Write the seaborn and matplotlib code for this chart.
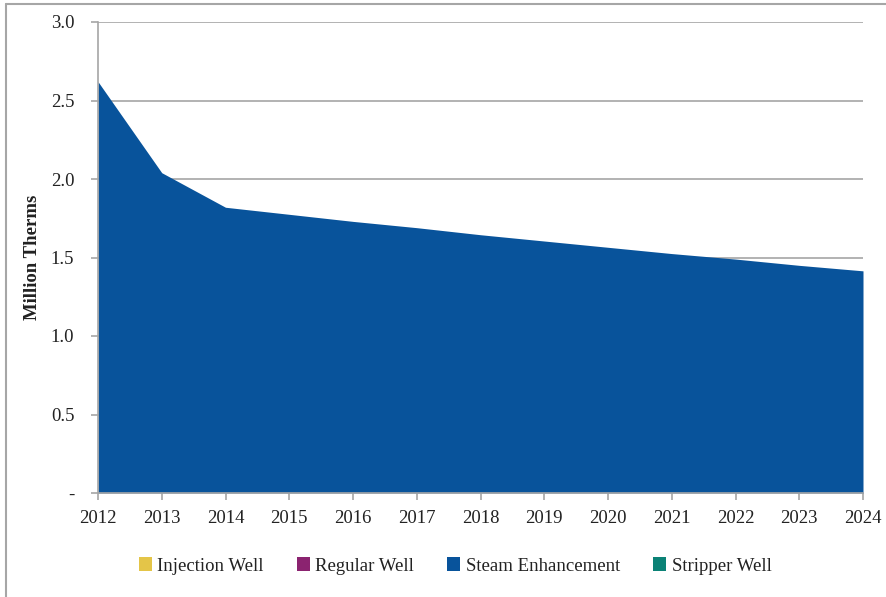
import matplotlib
matplotlib.use("Agg")
import matplotlib.pyplot as plt
import seaborn as sns
import numpy as np
from matplotlib.patches import Patch
from matplotlib.lines import Line2D

years = [2012, 2013, 2014, 2015, 2016, 2017, 2018, 2019, 2020, 2021, 2022, 2023, 2024]
injection_well = [0, 0, 0, 0, 0, 0, 0, 0, 0, 0, 0, 0, 0]
regular_well = [0, 0, 0, 0, 0, 0, 0, 0, 0, 0, 0, 0, 0]
steam_enhancement = [2.62, 2.04, 1.82, 1.775, 1.73, 1.69, 1.645, 1.605, 1.565, 1.525, 1.49, 1.45, 1.415]
stripper_well = [0, 0, 0, 0, 0, 0, 0, 0, 0, 0, 0, 0, 0]
series_names = ["Injection Well", "Regular Well", "Steam Enhancement", "Stripper Well"]
colors = ["#E4C548", "#8B2370", "#08539B", "#0B8276"]
y_ticks = [0, 0.5, 1.0, 1.5, 2.0, 2.5, 3.0]
y_labels = ["-", "0.5", "1.0", "1.5", "2.0", "2.5", "3.0"]

sns.set_theme(style="white")
plt.rcParams['font.family'] = ['Liberation Serif', 'DejaVu Serif']

fig = plt.figure(figsize=(8.86, 5.97), dpi=100)
ax = fig.add_axes([98/886, 1 - 493/597, (863-98)/886, (493-22)/597])

ax.stackplot(years, injection_well, regular_well, steam_enhancement, stripper_well,
             colors=colors, linewidth=0, zorder=2)

grid_c = "#A6A6A6"
for yt in y_ticks[1:]:
    ax.axhline(yt, color=grid_c, lw=1.2, zorder=1)

FS = 13.5
ax.set_xlim(2012, 2024)
ax.set_ylim(0, 3.0)
ax.set_xticks(years)
ax.set_xticklabels([str(y) for y in years])
ax.set_yticks(y_ticks)
ax.set_yticklabels(y_labels)
for s in ["top", "right"]:
    ax.spines[s].set_visible(False)
for s in ["left", "bottom"]:
    ax.spines[s].set_color(grid_c)
    ax.spines[s].set_linewidth(1.2)
    ax.spines[s].set_zorder(3)
ax.tick_params(axis="both", which="major", direction="out", length=5, width=1.2,
               color=grid_c, labelsize=FS, labelcolor="#222222")
ax.tick_params(axis="y", pad=12, left=True)
ax.tick_params(axis="x", pad=7, bottom=True)
ax.set_ylabel("Million Therms", fontsize=FS, fontweight="bold", color="#222222", labelpad=7)

handles = [Patch(facecolor=c, edgecolor="none") for c in colors]
fig.legend(handles, series_names, loc="center", bbox_to_anchor=(455/886, 1 - 566/597),
           ncol=4, frameon=False, fontsize=FS, handlelength=0.7, handleheight=0.7,
           handletextpad=0.3, columnspacing=1.75, labelcolor="#222222")

fig.add_artist(Line2D([6/886, 1.0], [1 - 4/597, 1 - 4/597], transform=fig.transFigure,
                      color="#A6A6A6", lw=1.5))
fig.add_artist(Line2D([6/886, 6/886], [0, 1 - 4/597], transform=fig.transFigure,
                      color="#A6A6A6", lw=1.5))

fig.savefig("out.png", dpi=100)
